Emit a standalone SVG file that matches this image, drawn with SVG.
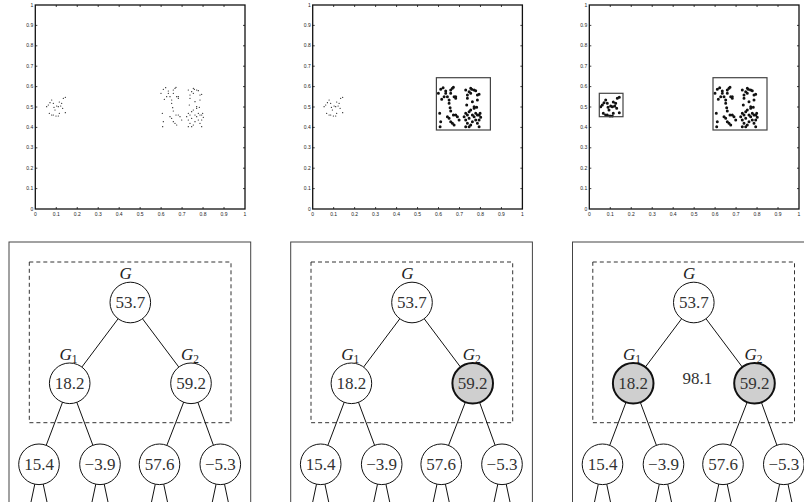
<svg xmlns="http://www.w3.org/2000/svg" width="804" height="502" viewBox="0 0 804 502">
<style>
.frame{fill:none;stroke:#111;stroke-width:1.3}
.tick{fill:none;stroke:#111;stroke-width:0.8}
.tl{font-family:"Liberation Sans",Arial,sans-serif;font-size:5px;fill:#222}
.tlx{text-anchor:middle}
.tly{text-anchor:end}
.pts{fill:none;stroke:#111;stroke-linecap:round;stroke-linejoin:round}
.sel{fill:none;stroke:#444;stroke-width:1.2}
.pframe{fill:none;stroke:#444;stroke-width:1}
.dash{fill:none;stroke:#333;stroke-width:1;stroke-dasharray:4 3}
.edge{stroke:#111;stroke-width:1;fill:none}
.node{fill:#fff;stroke:#111;stroke-width:1}
.hl{fill:#cfcfcf;stroke:#111;stroke-width:2}
.val{font-family:"Liberation Serif","Times New Roman",serif;font-size:17px;fill:#333;text-anchor:middle}
.lab{font-family:"Liberation Serif","Times New Roman",serif;font-size:17px;font-style:italic;fill:#222;text-anchor:middle}
.sub{font-size:11.5px;font-style:normal}
</style>
<defs>
<g id="axes">
<rect class="frame" x="35.3" y="5" width="209.7" height="204"/>
<path class="tick" d="M56.27 209v-2M77.24 209v-2M98.21 209v-2M119.18 209v-2M140.15 209v-2M161.12 209v-2M182.09 209v-2M203.06 209v-2M224.03 209v-2M56.27 5v2M77.24 5v2M98.21 5v2M119.18 5v2M140.15 5v2M161.12 5v2M182.09 5v2M203.06 5v2M224.03 5v2M35.3 188.6h2M35.3 168.2h2M35.3 147.8h2M35.3 127.4h2M35.3 107h2M35.3 86.6h2M35.3 66.2h2M35.3 45.8h2M35.3 25.4h2M245 188.6h-2M245 168.2h-2M245 147.8h-2M245 127.4h-2M245 107h-2M245 86.6h-2M245 66.2h-2M245 45.8h-2M245 25.4h-2"/>
<g class="tl tlx">
<text x="35.3" y="215.5">0</text><text x="56.27" y="215.5">0.1</text><text x="77.24" y="215.5">0.2</text><text x="98.21" y="215.5">0.3</text><text x="119.18" y="215.5">0.4</text><text x="140.15" y="215.5">0.5</text><text x="161.12" y="215.5">0.6</text><text x="182.09" y="215.5">0.7</text><text x="203.06" y="215.5">0.8</text><text x="224.03" y="215.5">0.9</text><text x="245" y="215.5">1</text>
</g>
<g class="tl tly">
<text x="33.3" y="210.5">0</text><text x="33.3" y="190.1">0.1</text><text x="33.3" y="169.7">0.2</text><text x="33.3" y="149.3">0.3</text><text x="33.3" y="128.9">0.4</text><text x="33.3" y="108.5">0.5</text><text x="33.3" y="88.1">0.6</text><text x="33.3" y="67.7">0.7</text><text x="33.3" y="47.3">0.8</text><text x="33.3" y="26.9">0.9</text><text x="33.3" y="6.5">1</text>
</g>
</g>
<path id="c1" class="pts" d="M46.7 106.7h0M48.3 105h0M50 102.7h0M51.7 100h0M54 107.3h0M55 110h0M49.3 113.3h0M51.7 115h0M53.3 115h0M56 116h0M58.3 116h0M59.3 113.3h0M58.3 106.7h0M59.3 102h0M60.7 106h0M62.7 108.3h0M63.3 98.3h0M65.3 97.3h0M65.3 112.7h0M61.7 103.3h0M56.7 106h0M53.3 103.3h0"/>
<path id="c2" class="pts" d="M161 93.3h0M163.3 89.3h0M165.7 87.7h0M164.3 99.3h0M166.7 96.7h0M168.3 91h0M162.3 113.3h0M163.3 121.7h0M162.7 126.7h0M171.7 100h0M173.3 90h0M175 88.3h0M176 87.3h0M173.3 93.3h0M170 96.7h0M171.7 103.3h0M172.7 107.7h0M173.3 111h0M176.7 96.7h0M178.3 98.3h0M171.7 118.3h0M173.3 121.7h0M175 123.3h0M176 115h0M178.3 115h0M180 116.7h0M178.3 96.7h0M181.7 120h0M176.7 125h0M170 116.7h0M168.3 93.3h0M188.3 90h0M190 95h0M191.7 91.7h0M193.3 88.3h0M194.3 89.3h0M196.7 90h0M198.3 90.7h0M200 95h0M201.7 94.3h0M200 100h0M190 98.3h0M189.3 105h0M195 101.7h0M196.7 108.3h0M193.3 110h0M191.7 111.7h0M188.3 113.3h0M186.7 116.7h0M188.3 120h0M190 123.3h0M191.7 126.7h0M193.3 125h0M195 121.7h0M196.7 116.7h0M198.3 113.3h0M200 115h0M201.7 115h0M202.7 113.3h0M198.3 120h0M200 123.3h0M201.7 126.7h0M196.7 106.7h0M199.3 107.3h0M195 115h0M191.7 118.3h0M203.3 117.3h0M201.7 120h0M193.3 93.3h0M188.3 126.7h0M190 115h0"/>
</defs>

<g id="plot1">
<use href="#axes"/>
<use href="#c1" stroke-width="1.2"/>
<use href="#c2" stroke-width="1.2"/>
</g>
<g id="plot2" transform="translate(277.4 0)">
<use href="#axes"/>
<use href="#c1" stroke-width="1.2"/>
<use href="#c2" stroke-width="3"/>
<rect class="sel" x="159" y="77.7" width="54" height="52.3"/>
</g>
<g id="plot3" transform="translate(554 0)">
<use href="#axes"/>
<use href="#c1" stroke-width="3"/>
<use href="#c2" stroke-width="3"/>
<rect class="sel" x="45.3" y="93.3" width="23.7" height="23.4"/>
<rect class="sel" x="159" y="77.7" width="54" height="52.3"/>
</g>

<!-- Tree panel 1 -->
<g id="tree1">
<rect class="pframe" x="9" y="242" width="241.7" height="280"/>
<rect class="dash" x="29.3" y="262" width="201.7" height="160.7"/>
<g id="connectors1">
<path class="edge" d="M130.3 302.5L69.7 383.3M130.3 302.5L191 383.3M69.7 383.3L39 464.3M69.7 383.3L100 464.3M191 383.3L159.5 464.3M191 383.3L220.3 464.3M39 464.3L24 535M39 464.3L54 535M100 464.3L85 535M100 464.3L115 535M159.5 464.3L144.5 535M159.5 464.3L174.5 535M220.3 464.3L205.3 535M220.3 464.3L235.3 535"/>
</g>
<g id="t1-G"><text class="lab" x="125.7" y="279">G</text><circle class="node" cx="130.3" cy="302.5" r="20.3"/><text class="val" x="130.3" y="308.3">53.7</text></g>
<g id="t1-G1"><text class="lab" x="68.5" y="360">G<tspan class="sub" dy="3">1</tspan></text><circle class="node" cx="69.7" cy="383.3" r="20.3"/><text class="val" x="69.7" y="389.1">18.2</text></g>
<g id="t1-G2"><text class="lab" x="190" y="360">G<tspan class="sub" dy="3">2</tspan></text><circle class="node" cx="191" cy="383.3" r="20.3"/><text class="val" x="191" y="389.1">59.2</text></g>
<g id="t1-L1"><circle class="node" cx="39" cy="464.3" r="20.3"/><text class="val" x="39" y="470.1">15.4</text></g>
<g id="t1-L2"><circle class="node" cx="100" cy="464.3" r="20.3"/><text class="val" x="100" y="470.1">−3.9</text></g>
<g id="t1-L3"><circle class="node" cx="159.5" cy="464.3" r="20.3"/><text class="val" x="159.5" y="470.1">57.6</text></g>
<g id="t1-L4"><circle class="node" cx="220.3" cy="464.3" r="20.3"/><text class="val" x="220.3" y="470.1">−5.3</text></g>
</g>

<!-- Tree panel 2 -->
<g id="tree2" transform="translate(281.7 0)">
<rect class="pframe" x="9" y="242" width="241.7" height="280"/>
<rect class="dash" x="29.3" y="262" width="201.7" height="160.7"/>
<g id="connectors2">
<path class="edge" d="M130.3 302.5L69.7 383.3M130.3 302.5L191 383.3M69.7 383.3L39 464.3M69.7 383.3L100 464.3M191 383.3L159.5 464.3M191 383.3L220.3 464.3M39 464.3L24 535M39 464.3L54 535M100 464.3L85 535M100 464.3L115 535M159.5 464.3L144.5 535M159.5 464.3L174.5 535M220.3 464.3L205.3 535M220.3 464.3L235.3 535"/>
</g>
<g id="t2-G"><text class="lab" x="125.7" y="279">G</text><circle class="node" cx="130.3" cy="302.5" r="20.3"/><text class="val" x="130.3" y="308.3">53.7</text></g>
<g id="t2-G1"><text class="lab" x="68.5" y="360">G<tspan class="sub" dy="3">1</tspan></text><circle class="node" cx="69.7" cy="383.3" r="20.3"/><text class="val" x="69.7" y="389.1">18.2</text></g>
<g id="t2-G2"><text class="lab" x="190" y="360">G<tspan class="sub" dy="3">2</tspan></text><circle class="hl" cx="191" cy="383.3" r="20.3"/><text class="val" x="191" y="389.1">59.2</text></g>
<g id="t2-L1"><circle class="node" cx="39" cy="464.3" r="20.3"/><text class="val" x="39" y="470.1">15.4</text></g>
<g id="t2-L2"><circle class="node" cx="100" cy="464.3" r="20.3"/><text class="val" x="100" y="470.1">−3.9</text></g>
<g id="t2-L3"><circle class="node" cx="159.5" cy="464.3" r="20.3"/><text class="val" x="159.5" y="470.1">57.6</text></g>
<g id="t2-L4"><circle class="node" cx="220.3" cy="464.3" r="20.3"/><text class="val" x="220.3" y="470.1">−5.3</text></g>
</g>

<!-- Tree panel 3 -->
<g id="tree3" transform="translate(563.5 0)">
<rect class="pframe" x="9" y="242" width="241.7" height="280"/>
<rect class="dash" x="29.3" y="262" width="201.7" height="160.7"/>
<g id="connectors3">
<path class="edge" d="M130.3 302.5L69.7 383.3M130.3 302.5L191 383.3M69.7 383.3L39 464.3M69.7 383.3L100 464.3M191 383.3L159.5 464.3M191 383.3L220.3 464.3M39 464.3L24 535M39 464.3L54 535M100 464.3L85 535M100 464.3L115 535M159.5 464.3L144.5 535M159.5 464.3L174.5 535M220.3 464.3L205.3 535M220.3 464.3L235.3 535"/>
</g>
<g id="t3-G"><text class="lab" x="125.7" y="279">G</text><circle class="node" cx="130.3" cy="302.5" r="20.3"/><text class="val" x="130.3" y="308.3">53.7</text></g>
<g id="t3-G1"><text class="lab" x="68.5" y="360">G<tspan class="sub" dy="3">1</tspan></text><circle class="hl" cx="69.7" cy="383.3" r="20.3"/><text class="val" x="69.7" y="389.1">18.2</text></g>
<g id="t3-G2"><text class="lab" x="190" y="360">G<tspan class="sub" dy="3">2</tspan></text><circle class="hl" cx="191" cy="383.3" r="20.3"/><text class="val" x="191" y="389.1">59.2</text></g>
<g id="t3-sum"><text class="val" x="133.8" y="383.8">98.1</text></g>
<g id="t3-L1"><circle class="node" cx="39" cy="464.3" r="20.3"/><text class="val" x="39" y="470.1">15.4</text></g>
<g id="t3-L2"><circle class="node" cx="100" cy="464.3" r="20.3"/><text class="val" x="100" y="470.1">−3.9</text></g>
<g id="t3-L3"><circle class="node" cx="159.5" cy="464.3" r="20.3"/><text class="val" x="159.5" y="470.1">57.6</text></g>
<g id="t3-L4"><circle class="node" cx="220.3" cy="464.3" r="20.3"/><text class="val" x="220.3" y="470.1">−5.3</text></g>
</g>
</svg>
